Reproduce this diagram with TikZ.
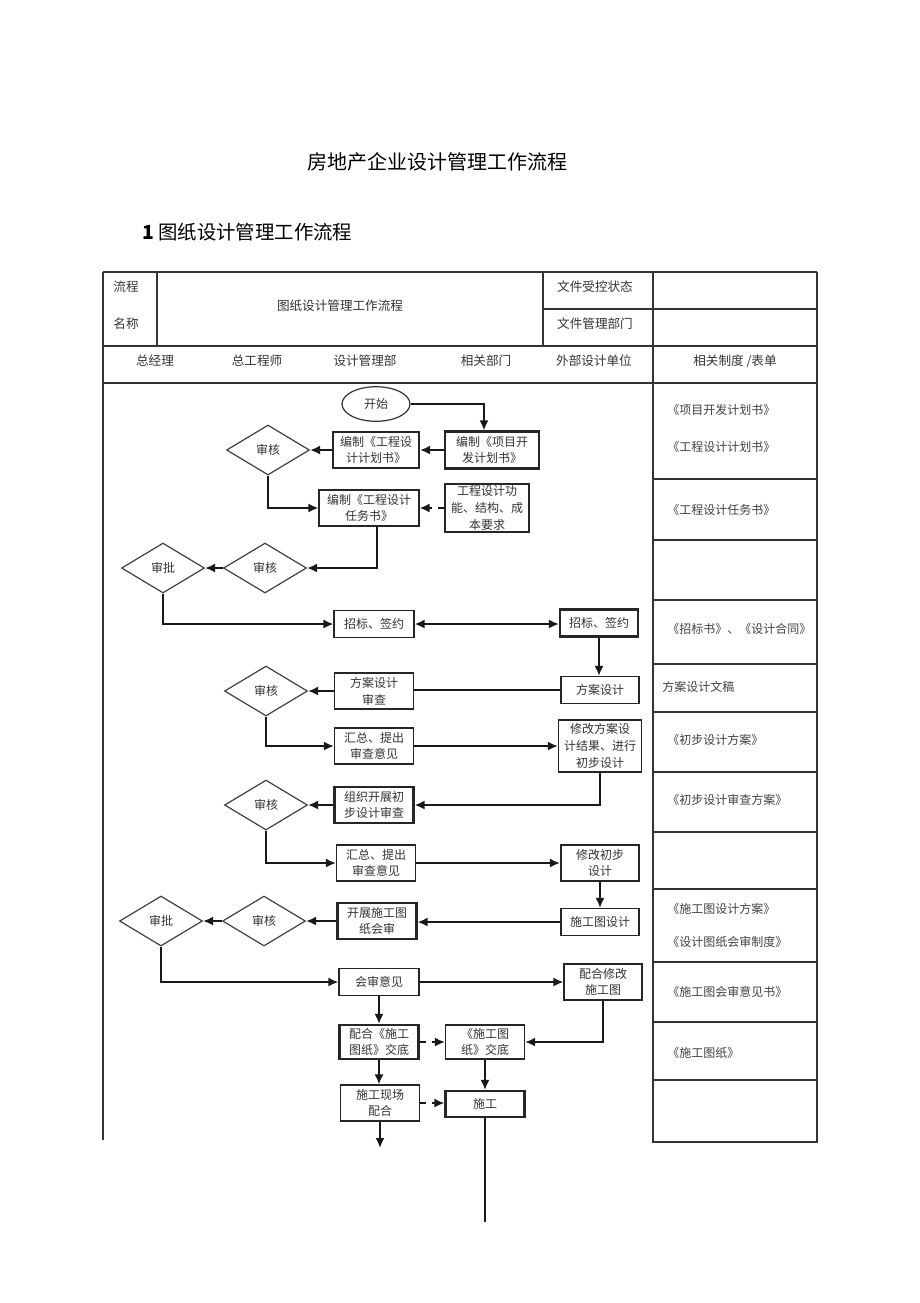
\documentclass[tikz,border=0pt]{standalone}
\usepackage{fontspec}
\setmainfont{Noto Sans CJK SC}
\usetikzlibrary{shapes.geometric,arrows.meta}
\begin{document}
\begin{tikzpicture}[x=0.5pt,y=-0.5pt,
  tab/.style={draw=black!80,line width=0.7pt},
  hd/.style={font=\fontsize{6.3}{8}\selectfont,text=black!80,inner sep=0pt},
  doc/.style={anchor=west,font=\fontsize{6}{8}\selectfont,text=black!75,inner sep=0pt},
  box/.style={draw=black!85,line width=0.6pt,fill=white,minimum width=39.5pt,minimum height=18pt,inner sep=1pt,align=center,font=\fontsize{6}{8.4}\selectfont,text=black!80},
  boxb/.style={box,line width=1.1pt},
  chk/.style={diamond,draw=black!75,line width=0.6pt,minimum width=41.5pt,minimum height=25pt,inner sep=0pt,aspect=1.66,font=\fontsize{6}{8}\selectfont,text=black!80},
  flow/.style={draw=black!90,line width=0.9pt,-{Latex[length=5pt,width=4.5pt]}},
  dflow/.style={flow,dashed,dash pattern=on 3pt off 3pt}]
\useasboundingbox (0,0) rectangle (920,1303);

% titles
\node (title) at (437,162) {\fontsize{10}{12}\selectfont 房地产企业设计管理工作流程};
\node[anchor=west] (sub) at (135,232) {\fontsize{9.7}{12}\selectfont\textbf{1} 图纸设计管理工作流程};

% table frame
\draw[tab] (103,272) -- (817,272);
\draw[tab] (543,309) -- (817,309);
\draw[tab] (103,346) -- (817,346);
\draw[tab] (103,383) -- (817,383);
\draw[tab] (157,272) -- (157,346);
\draw[tab] (543,272) -- (543,346);
\draw[tab] (103,272) -- (103,1140);
\draw[tab] (653,272) -- (653,1142) -- (817,1142) -- (817,272);
\foreach \y in {479,540,600,664,712,772,832,889,962,1022,1080}
  \draw[tab] (653,\y) -- (817,\y);

\node[hd] (lc) at (126,287) {流程};
\node[hd] (mc) at (126,324) {名称};
\node[hd] (lcmc) at (340,306) {图纸设计管理工作流程};
\node[hd] (skzt) at (595,287) {文件受控状态};
\node[hd] (glbm) at (595,324) {文件管理部门};
\node[hd] (zjl) at (155,361) {总经理};
\node[hd] (zgcs) at (257,361) {总工程师};
\node[hd] (sjglb) at (365,361) {设计管理部};
\node[hd] (xgbm) at (486,361) {相关部门};
\node[hd] (wbdw) at (594,361) {外部设计单位};
\node[hd] (zdbd) at (735,361) {相关制度 /表单};

% forms column
\node[doc] (d1) at (667,410) {《项目开发计划书》};
\node[doc] (d2) at (667,447) {《工程设计计划书》};
\node[doc] (d3) at (667,510) {《工程设计任务书》};
\node[doc] (d4) at (667,629) {《招标书》、《设计合同》};
\node[doc] (d5) at (662,687) {方案设计文稿};
\node[doc] (d6) at (667,740) {《初步设计方案》};
\node[doc] (d7) at (667,800) {《初步设计审查方案》};
\node[doc] (d8) at (667,909) {《施工图设计方案》};
\node[doc] (d9) at (667,942) {《设计图纸会审制度》};
\node[doc] (d10) at (667,992) {《施工图会审意见书》};
\node[doc] (d11) at (667,1053) {《施工图纸》};

% flow nodes
\node[ellipse,draw=black!80,line width=0.6pt,minimum width=34pt,minimum height=17pt,font=\fontsize{6}{8}\selectfont,text=black!80] (start) at (376,404) {开始};
\node[boxb,minimum width=47pt,minimum height=18.5pt] (xmjh) at (492,450) {编制《项目开\\发计划书》};
\node[boxb,minimum width=43pt] (gcjh) at (376,450) {编制《工程设\\计计划书》};
\node[chk] (sh1) at (268,450) {审核};
\node[box,minimum width=50pt] (rws) at (369,508) {编制《工程设计\\任务书》};
\node[boxb,minimum width=42pt,minimum height=24pt] (yq) at (487,508) {工程设计功\\能、结构、成\\本要求};
\node[chk] (sh2) at (265,568) {审核};
\node[chk] (sp1) at (163,568) {审批};
\node[box,minimum width=40pt,minimum height=13.5pt] (zb1) at (374,624) {招标、签约};
\node[boxb,minimum width=39pt,minimum height=13.5pt] (zb2) at (599,623) {招标、签约};
\node[box,minimum width=39pt,minimum height=13.5pt] (fasj) at (600,690) {方案设计};
\node[box] (fasc) at (374,691) {方案设计\\审查};
\node[chk] (sh3) at (266,691) {审核};
\node[box] (hz1) at (374,746) {汇总、提出\\审查意见};
\node[box,minimum width=41.5pt,minimum height=26pt] (xgfa) at (600,746) {修改方案设\\计结果、进行\\初步设计};
\node[boxb] (zzcb) at (374,805) {组织开展初\\步设计审查};
\node[chk] (sh4) at (266,805) {审核};
\node[box] (hz2) at (376,863) {汇总、提出\\审查意见};
\node[boxb,minimum width=39pt] (xgcb) at (600,863) {修改初步\\设计};
\node[box,minimum width=39pt,minimum height=13.5pt] (sgtsj) at (600,922) {施工图设计};
\node[boxb] (kzhs) at (377,921) {开展施工图\\纸会审};
\node[chk] (sh5) at (264,921) {审核};
\node[chk] (sp2) at (161,921) {审批};
\node[box,minimum width=40pt,minimum height=13.5pt] (hsyj) at (379,982) {会审意见};
\node[box,minimum width=39pt] (phxg) at (603,982) {配合修改\\施工图};
\node[boxb,minimum height=17pt] (phjd) at (379,1042) {配合《施工\\图纸》交底};
\node[box,minimum height=17pt] (jd) at (485,1042) {《施工图\\纸》交底};
\node[box] (xcph) at (380,1103) {施工现场\\配合};
\node[boxb,minimum height=13pt] (sg) at (485,1104) {施工};
\coordinate (xcend) at (380,1148);
\coordinate (sgend) at (485,1222);

% connectors
\draw[flow] (start.east) -| ([xshift=-4pt]xmjh.north);
\draw[flow] (xmjh) -- (gcjh);
\draw[flow] (gcjh) -- (sh1);
\draw[flow] (sh1.south) |- (rws.west);
\draw[dflow] (yq) -- (rws);
\draw[flow] ([xshift=4pt]rws.south) |- (sh2.east);
\draw[flow] (sh2) -- (sp1);
\draw[flow] (sp1.south) |- (zb1.west);
\draw[flow,{Latex[length=5pt,width=4.5pt]}-{Latex[length=5pt,width=4.5pt]}] (zb1.east) -- (zb1.east -| zb2.west);
\draw[flow] (zb2.south) -- (zb2.south |- fasj.north);
\draw[draw=black!90,line width=0.9pt] (fasj.west) -- (fasj.west -| fasc.east);
\draw[flow] (fasc) -- (sh3);
\draw[flow] (sh3.south) |- (hz1.west);
\draw[flow] (hz1) -- (xgfa);
\draw[flow] (xgfa.south) |- (zzcb.east);
\draw[flow] (zzcb) -- (sh4);
\draw[flow] (sh4.south) |- (hz2.west);
\draw[flow] (hz2) -- (xgcb);
\draw[flow] (xgcb) -- (sgtsj);
\draw[flow] (sgtsj.west) -- (sgtsj.west -| kzhs.east);
\draw[flow] (kzhs) -- (sh5);
\draw[flow] (sh5) -- (sp2);
\draw[flow] (sp2.south) |- (hsyj.west);
\draw[flow] (hsyj) -- (phxg);
\draw[flow] (hsyj) -- (phjd);
\draw[flow] (phxg.south) |- (jd.east);
\draw[dflow] (phjd) -- (jd);
\draw[flow] (phjd.south) -- (phjd.south |- xcph.north);
\draw[flow] (jd) -- (sg);
\draw[dflow] (xcph.east) -- (xcph.east -| sg.west);
\draw[flow] (xcph) -- (xcend);
\draw[draw=black!90,line width=0.9pt] (sg) -- (sgend);
\end{tikzpicture}
\end{document}
